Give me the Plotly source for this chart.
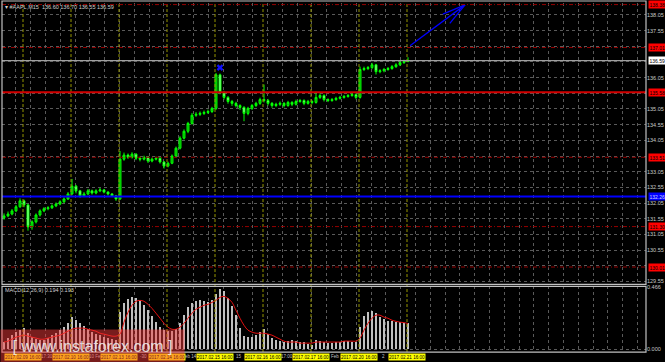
import math
import plotly.graph_objects as go

# ---------------- data ----------------
header_text = "▾ #AAPL,M15  136.60 136.70 136.55 136.59"
macd_text = "MACD(12,26,9) 0.194 0.193"
watermark_text = "[ www.instaforex.com ]"

first_open = 131.58
close = [
    131.64, 131.70, 131.80, 131.93, 132.12, 131.99, 131.29, 131.45, 131.67, 131.80,
    131.87, 131.90, 131.96, 132.02, 132.09, 132.18, 132.34, 132.59, 132.44, 132.28,
    132.34, 132.44, 132.37, 132.44, 132.47, 132.40, 132.34, 132.28, 132.18, 133.45,
    133.58, 133.51, 133.61, 133.48, 133.45, 133.51, 133.39, 133.45, 133.48, 133.36,
    133.23, 133.32, 133.55, 133.80, 134.12, 134.34, 134.59, 134.85, 134.88, 134.91,
    134.94, 134.97, 135.07, 136.14, 135.58, 135.42, 135.29, 135.23, 135.16, 135.10,
    134.91, 135.07, 135.16, 135.23, 135.35, 135.32, 135.23, 135.16, 135.20, 135.23,
    135.16, 135.26, 135.20, 135.29, 135.32, 135.23, 135.29, 135.26, 135.42, 135.48,
    135.35, 135.32, 135.35, 135.39, 135.42, 135.45, 135.48, 135.51, 135.42, 136.31,
    136.34, 136.37, 136.46, 136.24, 136.27, 136.31, 136.34, 136.40, 136.46, 136.53,
    136.56, 136.59]
high = [
    131.72, 131.78, 131.86, 131.99, 132.20, 132.16, 132.02, 131.50, 131.72, 131.85,
    131.92, 131.95, 132.01, 132.07, 132.14, 132.23, 132.40, 132.82, 132.63, 132.47,
    132.40, 132.50, 132.48, 132.49, 132.53, 132.50, 132.43, 132.37, 132.31, 133.71,
    133.66, 133.63, 133.67, 133.64, 133.53, 133.56, 133.54, 133.50, 133.53, 133.51,
    133.39, 133.37, 133.60, 133.85, 134.18, 134.40, 134.64, 134.92, 134.95, 134.97,
    135.00, 135.03, 135.12, 136.20, 136.18, 135.63, 135.46, 135.34, 135.28, 135.20,
    135.14, 135.12, 135.21, 135.28, 135.41, 135.83, 135.37, 135.27, 135.25, 135.29,
    135.27, 135.31, 135.30, 135.35, 135.37, 135.36, 135.34, 135.33, 135.60, 135.55,
    135.52, 135.39, 135.40, 135.44, 135.47, 135.50, 135.53, 135.57, 135.55, 136.40,
    136.40, 136.42, 136.52, 136.49, 136.32, 136.36, 136.39, 136.45, 136.51, 136.58,
    136.62, 136.70]
low = [
    131.52, 131.60, 131.66, 131.76, 131.90, 131.92, 131.17, 131.20, 131.40, 131.62,
    131.76, 131.82, 131.86, 131.92, 131.98, 132.05, 132.15, 132.30, 132.36, 132.22,
    132.24, 132.30, 132.32, 132.33, 132.40, 132.36, 132.29, 132.24, 132.12, 132.15,
    133.40, 133.46, 133.47, 133.42, 133.38, 133.41, 133.33, 133.35, 133.41, 133.31,
    133.15, 133.19, 133.29, 133.50, 133.76, 134.08, 134.28, 134.55, 134.80, 134.83,
    134.86, 134.89, 134.92, 135.02, 135.52, 135.35, 135.22, 135.15, 135.10, 135.02,
    134.66, 134.85, 135.02, 135.11, 135.18, 135.26, 135.16, 135.09, 135.11, 135.15,
    135.10, 135.12, 135.14, 135.16, 135.25, 135.17, 135.19, 135.20, 135.22, 135.37,
    135.29, 135.27, 135.28, 135.31, 135.35, 135.38, 135.41, 135.44, 135.36, 135.38,
    136.26, 136.29, 136.32, 136.15, 136.19, 136.22, 136.27, 136.30, 136.36, 136.42,
    136.49, 136.55]

macd_hist = [
    0.053, 0.083, 0.105, 0.128, 0.143, 0.158, 0.120, 0.090, 0.075, 0.068,
    0.068, 0.083, 0.105, 0.120, 0.143, 0.165, 0.195, 0.241, 0.218, 0.195,
    0.173, 0.150, 0.128, 0.113, 0.105, 0.090, 0.083, 0.075, 0.068, 0.278,
    0.346, 0.376, 0.391, 0.383, 0.368, 0.331, 0.293, 0.248, 0.203, 0.165,
    0.143, 0.135, 0.135, 0.150, 0.195, 0.256, 0.316, 0.346, 0.361, 0.368,
    0.361, 0.353, 0.368, 0.413, 0.451, 0.436, 0.383, 0.323, 0.256, 0.158,
    0.098, 0.090, 0.090, 0.105, 0.128, 0.150, 0.113, 0.083, 0.068, 0.060,
    0.053, 0.060, 0.068, 0.060, 0.053, 0.053, 0.038, 0.030, 0.068, 0.060,
    0.053, 0.045, 0.045, 0.053, 0.053, 0.060, 0.060, 0.053, 0.053, 0.165,
    0.248, 0.278, 0.286, 0.271, 0.241, 0.225, 0.210, 0.210, 0.203, 0.200,
    0.196, 0.194]
macd_signal = [
    0.053, 0.060, 0.075, 0.090, 0.098, 0.105, 0.098, 0.090, 0.083, 0.075,
    0.075, 0.083, 0.090, 0.098, 0.105, 0.120, 0.135, 0.150, 0.158, 0.158,
    0.158, 0.150, 0.143, 0.135, 0.120, 0.113, 0.105, 0.098, 0.098, 0.113,
    0.203, 0.278, 0.331, 0.361, 0.368, 0.361, 0.338, 0.308, 0.271, 0.233,
    0.195, 0.165, 0.150, 0.150, 0.165, 0.195, 0.233, 0.271, 0.301, 0.316,
    0.331, 0.338, 0.353, 0.368, 0.391, 0.398, 0.383, 0.353, 0.293, 0.233,
    0.180, 0.143, 0.128, 0.120, 0.120, 0.120, 0.113, 0.105, 0.090, 0.075,
    0.060, 0.053, 0.053, 0.053, 0.045, 0.045, 0.045, 0.045, 0.053, 0.053,
    0.053, 0.053, 0.053, 0.053, 0.053, 0.060, 0.060, 0.060, 0.060, 0.083,
    0.143, 0.195, 0.233, 0.256, 0.256, 0.241, 0.233, 0.218, 0.210, 0.203,
    0.200, 0.193]

price_tick_labels = ["129.55", "130.05", "130.55", "131.05", "131.55", "132.05",
                     "132.55", "133.05", "133.55", "134.05", "134.55", "135.05",
                     "135.55", "136.05", "136.55", "137.05", "137.55", "138.05"]
macd_tick_values = [0.0, 0.466]
macd_tick_labels = ["0.000", "0.466"]

level_prices = [138.38, 137.01, 136.59, 135.58, 133.51, 132.26, 131.30, 130.01]
level_labels = ["138.38", "137.01", "136.59", "135.58", "133.51", "132.26", "131.30", "130.01"]

day_labels = ["2017.02.09 16:00", "2017.02.10 16:00", "2017.02.13 16:00",
              "2017.02.14 16:00", "2017.02.15 16:00", "2017.02.16 16:00",
              "2017.02.17 16:00", "2017.02.20 16:00", "2017.02.21 16:00"]
between_labels = ["8", "17:30", "10 Fe", "-30", "eb 14", "15", "17:00", "Feb", "2"]

arrow_bar = [101.5, 115.25]
arrow_price = [137.07, 138.37]
mark_bar = [54]
mark_price = [136.37]

# ---------------- layout geometry (pixels) ----------------
W, H = 665, 362
PLOT_L, PLOT_R = 2, 646
MAIN_T, MAIN_B = 1, 284
MACD_T, MACD_B = 286, 352
BAR0_PX, BAR_PX = 4, 4
REF_PRICE, REF_PX, PX_PER_PRICE = 138.05, 13, 31.53
MACD_ZERO_PX, PX_PER_MACD = 349, 133.05
FIRST_DAY_BAR, BARS_PER_DAY = 4.75, 12
GRID_X0_BAR, GRID_DX_BAR = -0.75, 3.7
LABEL_HIDE_DIST = 0.1   # axis labels hidden under a level's price box


def py(px):
    return 1 - px / H


x_range = [-(BAR0_PX - PLOT_L) / BAR_PX, -(BAR0_PX - PLOT_L) / BAR_PX + (PLOT_R - PLOT_L) / BAR_PX]
y_range = [REF_PRICE - (MAIN_B - REF_PX) / PX_PER_PRICE, REF_PRICE + (REF_PX - MAIN_T) / PX_PER_PRICE]
y2_range = [-(MACD_B - MACD_ZERO_PX) / PX_PER_MACD, (MACD_ZERO_PX - MACD_T) / PX_PER_MACD]
x_dom = [PLOT_L / W, PLOT_R / W]

n = len(close)
bars = list(range(n))
opens = [first_open] + close[:-1]

fig = go.Figure()

fig.add_trace(go.Candlestick(
    x=bars, open=opens, high=high, low=low, close=close,
    increasing=dict(line=dict(color="#00ff00", width=1), fillcolor="#00a000"),
    decreasing=dict(line=dict(color="#00ff00", width=1), fillcolor="#b8ffb8"),
    whiskerwidth=0, xaxis="x", yaxis="y", hoverinfo="skip"))

# arrow
tail_b, tip_b = arrow_bar
tail_p, tip_p = arrow_price
dx = (tail_b - tip_b) * BAR_PX
dy = (tail_p - tip_p) * PX_PER_PRICE
L = math.hypot(dx, dy)
ux, uy = dx / L, dy / L
HEAD_PX, HEAD_ANG = 24, math.radians(14)
ax, ay = [tail_b, tip_b, None], [tail_p, tip_p, None]
for s in (1, -1):
    c, sn = math.cos(s * HEAD_ANG), math.sin(s * HEAD_ANG)
    rx, ry = ux * c - uy * sn, ux * sn + uy * c
    ax += [tip_b, tip_b + rx * HEAD_PX / BAR_PX, None]
    ay += [tip_p, tip_p + ry * HEAD_PX / PX_PER_PRICE, None]
fig.add_trace(go.Scatter(x=ax, y=ay, mode="lines", line=dict(color="#0000ff", width=1.3),
                         xaxis="x", yaxis="y", hoverinfo="skip"))
fig.add_trace(go.Scatter(x=mark_bar, y=mark_price, mode="markers",
                         marker=dict(symbol="x", size=6, color="#1010ff", line=dict(width=0)),
                         xaxis="x", yaxis="y", hoverinfo="skip"))

# MACD
fig.add_trace(go.Bar(x=bars, y=macd_hist, marker=dict(color="#c0c0c0", line=dict(width=0)),
                     width=0.72, xaxis="x2", yaxis="y2", hoverinfo="skip"))
fig.add_trace(go.Scatter(x=bars, y=macd_signal, mode="lines", line=dict(color="#e01010", width=1, shape="spline"),
                         xaxis="x2", yaxis="y2", hoverinfo="skip"))

shapes = []
# yellow day separators
day_x = [FIRST_DAY_BAR + k * BARS_PER_DAY for k in range(len(day_labels))]
for xv in day_x:
    shapes.append(dict(type="line", xref="x", yref="paper", x0=xv, x1=xv, y0=py(MACD_B), y1=1,
                       line=dict(color="rgb(150,150,0)", width=1, dash="3px,2px"), layer="above"))

level_styles = [
    dict(color="rgb(150,0,0)", width=1, dash="4px,2px,1px,2px", bg="#ff0000", fg="#000000"),
    dict(color="rgb(150,0,0)", width=1, dash="4px,2px,1px,2px", bg="#ff0000", fg="#000000"),
    dict(color="#a0a0a0", width=1.3, dash="solid", bg="#ffffff", fg="#000000"),
    dict(color="rgb(210,0,0)", width=2, dash="solid", bg="#ff0000", fg="#000000"),
    dict(color="rgb(150,0,0)", width=1, dash="4px,2px,1px,2px", bg="#ff0000", fg="#000000"),
    dict(color="#0000ff", width=2, dash="solid", bg="#0000ff", fg="#d0d0ff"),
    dict(color="rgb(150,0,0)", width=1, dash="4px,2px,1px,2px", bg="#ff0000", fg="#000000"),
    dict(color="rgb(150,0,0)", width=1, dash="4px,2px,1px,2px", bg="#ff0000", fg="#000000"),
]
for p, st in zip(level_prices, level_styles):
    shapes.append(dict(type="line", xref="x domain", yref="y", x0=0, x1=1, y0=p, y1=p,
                       line=dict(color=st["color"], width=st["width"], dash=st["dash"]), layer="above"))

# panel borders
for t, b in ((MAIN_T - 2, MAIN_B), (MACD_T, MACD_B)):
    shapes.append(dict(type="rect", xref="paper", yref="paper", x0=PLOT_L / W, x1=PLOT_R / W,
                       y0=py(b), y1=py(t), line=dict(color="#c0c0c0", width=1.2), layer="above"))

annotations = []
for p, lab, st in zip(level_prices, level_labels, level_styles):
    annotations.append(dict(xref="paper", yref="y", x=(PLOT_R + 2) / W, y=p, xanchor="left", yanchor="middle",
                            text=lab, showarrow=False, bgcolor=st["bg"], borderpad=0.5,
                            font=dict(size=5, color=st["fg"], family="Liberation Sans")))

annotations.append(dict(xref="paper", yref="paper", x=3 / W, y=py(5), xanchor="left", yanchor="middle",
                        text=header_text, showarrow=False, font=dict(size=5.5, color="#d0d0d0", family="Liberation Sans")))
annotations.append(dict(xref="paper", yref="paper", x=3 / W, y=py(290), xanchor="left", yanchor="middle",
                        text=macd_text, showarrow=False, font=dict(size=5.5, color="#d0d0d0", family="Liberation Sans")))

for xv, lab in zip(day_x, between_labels):
    annotations.append(dict(xref="x", yref="paper", x=xv - BARS_PER_DAY / 2, y=py(356.5), xanchor="center",
                            yanchor="middle", text=lab, showarrow=False, borderpad=0,
                            font=dict(size=4.5, color="#c0c0c0", family="Liberation Sans")))
for xv, lab in zip(day_x, day_labels):
    annotations.append(dict(xref="x", yref="paper", x=xv, y=py(356.5), xanchor="center", yanchor="middle",
                            text=lab, showarrow=False, bgcolor="#ffff00", width=36, height=6, borderpad=0,
                            font=dict(size=4.6, color="#000000", family="Liberation Sans")))

annotations.append(dict(xref="paper", yref="paper", x=0, y=py(329), xanchor="left", yanchor="top",
                        text=watermark_text, showarrow=False, bgcolor="rgba(250,60,60,0.48)",
                        width=183, height=33, borderpad=0,
                        font=dict(size=16, color="rgba(235,235,235,0.9)", family="Liberation Sans")))

# axis labels that sit under a level's price box are not visible in the reference
tick_vals = [float(v) for v in price_tick_labels]
tick_text = ["" if any(abs(v - p) < LABEL_HIDE_DIST for p in level_prices) else lab
             for v, lab in zip(tick_vals, price_tick_labels)]

grid = dict(showgrid=True, gridcolor="#5a5a5a", griddash="dot", gridwidth=1, zeroline=False)

fig.update_layout(
    width=W, height=H, margin=dict(l=0, r=0, t=0, b=0, pad=0),
    paper_bgcolor="#000000", plot_bgcolor="#000000", showlegend=False,
    xaxis=dict(domain=x_dom, range=x_range, anchor="y", tick0=GRID_X0_BAR, dtick=GRID_DX_BAR,
               showticklabels=False, ticks="", rangeslider=dict(visible=False), **grid),
    yaxis=dict(domain=[py(MAIN_B), py(MAIN_T)], range=y_range, anchor="x", side="right",
               tickvals=tick_vals, ticktext=tick_text,
               ticks="", tickfont=dict(size=5.5, color="#c8c8c8", family="Liberation Sans"), **grid),
    xaxis2=dict(domain=x_dom, range=x_range, anchor="y2", tick0=GRID_X0_BAR, dtick=GRID_DX_BAR,
                showticklabels=False, ticks="", **grid),
    yaxis2=dict(domain=[py(MACD_B), py(MACD_T)], range=y2_range, anchor="x2", side="right",
                tickvals=macd_tick_values, ticktext=macd_tick_labels, ticks="",
                tickfont=dict(size=5.5, color="#c8c8c8", family="Liberation Sans"), **grid),
    shapes=shapes, annotations=annotations, bargap=0,
)

fig.write_html("out.html")
